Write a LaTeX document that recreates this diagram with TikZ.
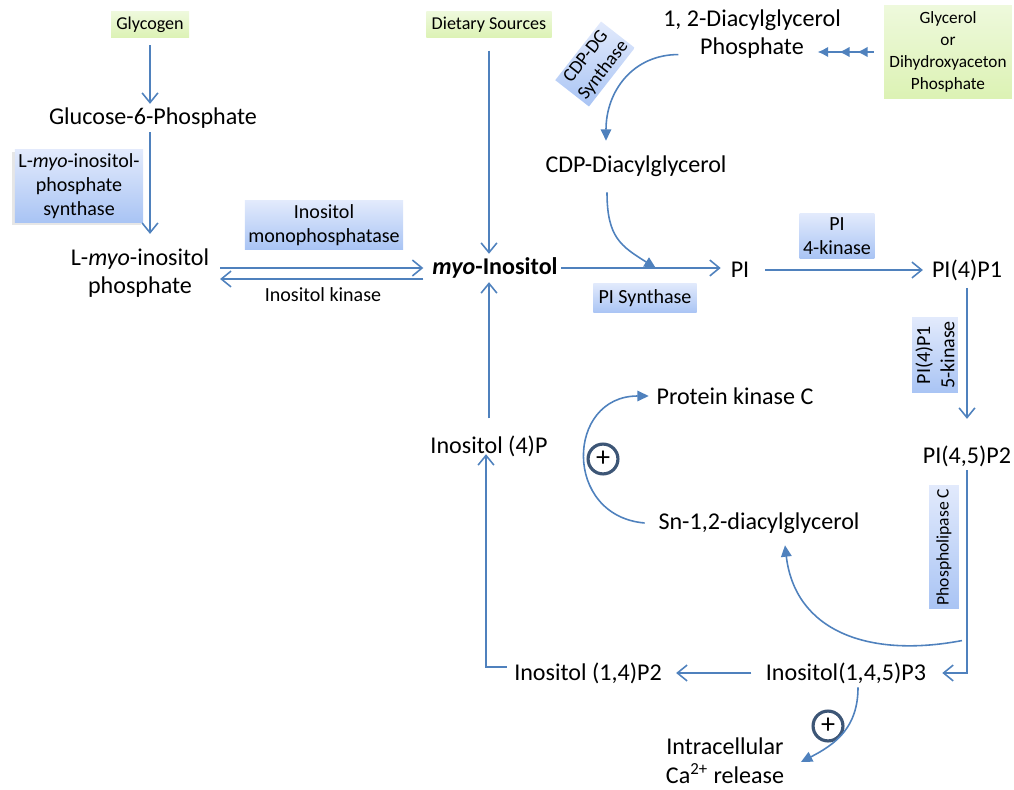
\documentclass[tikz,border=0pt]{standalone}
\usepackage{fontspec}
\setmainfont{Carlito}
\usepackage{tikz}
\usetikzlibrary{arrows.meta,calc,decorations.markings,shadows}

\definecolor{arrowblue}{HTML}{4F81BD}
\definecolor{enztop}{HTML}{E2EAFC}
\definecolor{enzbot}{HTML}{A9C4F4}
\definecolor{srctop}{HTML}{EEF9DC}
\definecolor{srcbot}{HTML}{DCF2B4}
\definecolor{plusring}{HTML}{3D5676}

\tikzset{
  metab/.style={inner sep=2pt, align=center, font=\fontsize{13.7}{16.4}\selectfont},
  enz/.style={inner sep=2pt, align=center, minimum height=17pt, top color=enztop, bottom color=enzbot, font=\fontsize{11.4}{13.7}\selectfont},
  enzlabel/.style={inner sep=2pt, font=\fontsize{11.4}{13.7}\selectfont},
  src/.style={inner xsep=3pt, inner ysep=2pt, align=center, minimum height=14.8pt, top color=srctop, bottom color=srcbot, font=\fontsize{10.3}{12.5}\selectfont},
  flow/.style={draw=arrowblue, line width=0.9pt, -{Straight Barb[length=5.5pt,width=9pt]}},
  react/.style={draw=arrowblue, line width=0.9pt, -{Triangle[length=6.5pt,width=6pt]}},
  plusmark/.style={circle, draw=plusring, line width=1.8pt, minimum size=17pt, inner sep=0pt, font=\fontsize{16}{16}\selectfont},
  triple/.style={draw=arrowblue, line width=0.9pt, -{Latex[length=6pt,width=6pt]},
    decoration={markings,
      mark=at position 0.3 with {\arrow{Latex[length=6pt,width=6pt]}},
      mark=at position 0.62 with {\arrow{Latex[length=6pt,width=6pt]}}},
    postaction={decorate}}
}

\begin{document}
\begin{tikzpicture}[x=0.02cm,y=-0.02cm]
\useasboundingbox (0,0) rectangle (1014,790);

% sources
\node[src] (glycogen) at (150,25) {Glycogen};
\node[src] (dietary) at (489,25) {Dietary Sources};
\node[src, inner ysep=3.5pt, font=\fontsize{9.8}{12.5}\selectfont] (glycerol) at (948,52) {Glycerol\\or\\Dihydroxyaceton\\Phosphate};

% metabolites
\node[metab] (dagp) at (752,34) {1, 2-Diacylglycerol\\Phosphate};
\node[metab] (g6p) at (153,118) {Glucose-6-Phosphate};
\node[metab] (lmip) at (140,273) {L-\textit{myo}-inositol\\phosphate};
\node[metab] (myo) at (495,268) {\textbf{\textit{myo}-Inositol}};
\node[metab] (cdpdag) at (636,166) {CDP-Diacylglycerol};
\node[metab] (pi) at (740,270) {PI};
\node[metab] (pi4p) at (967,270) {PI(4)P1};
\node[metab] (pi45p2) at (967,456) {PI(4,5)P2};
\node[metab] (pkc) at (735,396) {Protein kinase C};
\node[metab] (sndag) at (759,523) {Sn-1,2-diacylglycerol};
\node[metab] (ins4p) at (489,446) {Inositol (4)P};
\node[metab] (ip2) at (588,673) {Inositol (1,4)P2};
\node[metab] (ip3) at (846,673) {Inositol(1,4,5)P3};
\node[metab] (ca) at (725,761) {Intracellular\\Ca\textsuperscript{2+} release};

% enzymes
\node[enz, drop shadow={opacity=0.2, shadow xshift=-1.5pt, shadow yshift=-1.5pt}] (esynth) at (79,186) {L-\textit{myo}-inositol-\\phosphate\\synthase};
\node[enz] (emono) at (324,225) {Inositol\\monophosphatase};
\node[enzlabel] (ekin) at (323,295) {Inositol kinase};
\node[enz, inner xsep=3pt] (epis) at (645,298) {PI Synthase};
\node[enz] (epi4k) at (837,236) {PI\\4-kinase};
\node[enz, rotate=52, inner sep=1.5pt, font=\fontsize{10.8}{12.6}\selectfont] (ecdp) at (595,64) {CDP-DG\\Synthase};
\node[enz, rotate=90] (e5k) at (935,355) {PI(4)P1\\5-kinase};
\node[enz, rotate=90, font=\fontsize{10}{12}\selectfont] (eplc) at (944,547) {Phospholipase C};

\node[plusmark] (plus1) at (603,459) {+};
\node[plusmark] (plus2) at (828,726) {+};

% straight steps
\draw[flow, shorten <=4pt] (glycogen) -- (g6p.north -| glycogen);
\draw[flow, shorten >=6pt] (g6p.south -| glycogen) -- (lmip.north -| glycogen);
\draw[flow, shorten <=4pt, shorten >=3pt] (lmip.east |- myo.west) -- (myo.west);
\draw[flow, shorten <=3pt, shorten >=4pt] ($(myo.west)+(0,11)$) -- ($(lmip.east |- myo.west)+(0,11)$);
\draw[flow, shorten <=7pt] (dietary) -- (myo.north -| dietary);
\draw[flow, shorten <=7.5pt] (ins4p) -- (myo.south -| ins4p);
\draw[flow, shorten >=3.5pt] (myo.east) -- coordinate[pos=0.57] (pijoin) (myo.east -| pi.west);
\draw[flow, shorten <=7pt, shorten >=3pt] (pi.east) -- (pi.east -| pi4p.west);
\draw[flow, shorten <=2pt, shorten >=13pt] (pi4p) -- (pi45p2);
\draw[flow, shorten >=7pt] (pi45p2) |- coordinate[pos=0.42] (plcout) (ip3.east);
\draw[flow, shorten <=6pt, shorten >=6pt] (ip3.west) -- (ip3.west -| ip2.east);
\draw[flow, shorten <=2pt, shorten >=-3.5pt] ($(ip2.west)+(0,-6)$) -| ($(ins4p.south)+(-3,0)$);
\draw[triple] ($(glycerol.west)+(-10,0)$) -- ($(glycerol.west -| dagp.east)+(-27,0)$);

% curved steps
\draw[react] ($(dagp.south west)+(19,-8)$) .. controls +(-45,0) and +(0,-50) .. ($(cdpdag.north)+(-30,-11)$);
\draw[react] ($(cdpdag.south)+(-29,12)$) .. controls +(0,45) and +(-35,-22) .. (pijoin);
\draw[react] ($(plcout)+(-5,0)$) .. controls +(-95,18) and +(10,85) .. ($(sndag.south)+(26,8)$);
\draw[react] ($(sndag.west)+(-10,0)$) .. controls +(-82,-7) and +(-83,0) .. ($(pkc.west)+(-4,0)$);
\draw[react] ($(ip3.south)+(12,0)$) .. controls +(0,40) and +(35,-18) .. ($(ca.east)+(13,1)$);
\end{tikzpicture}
\end{document}
